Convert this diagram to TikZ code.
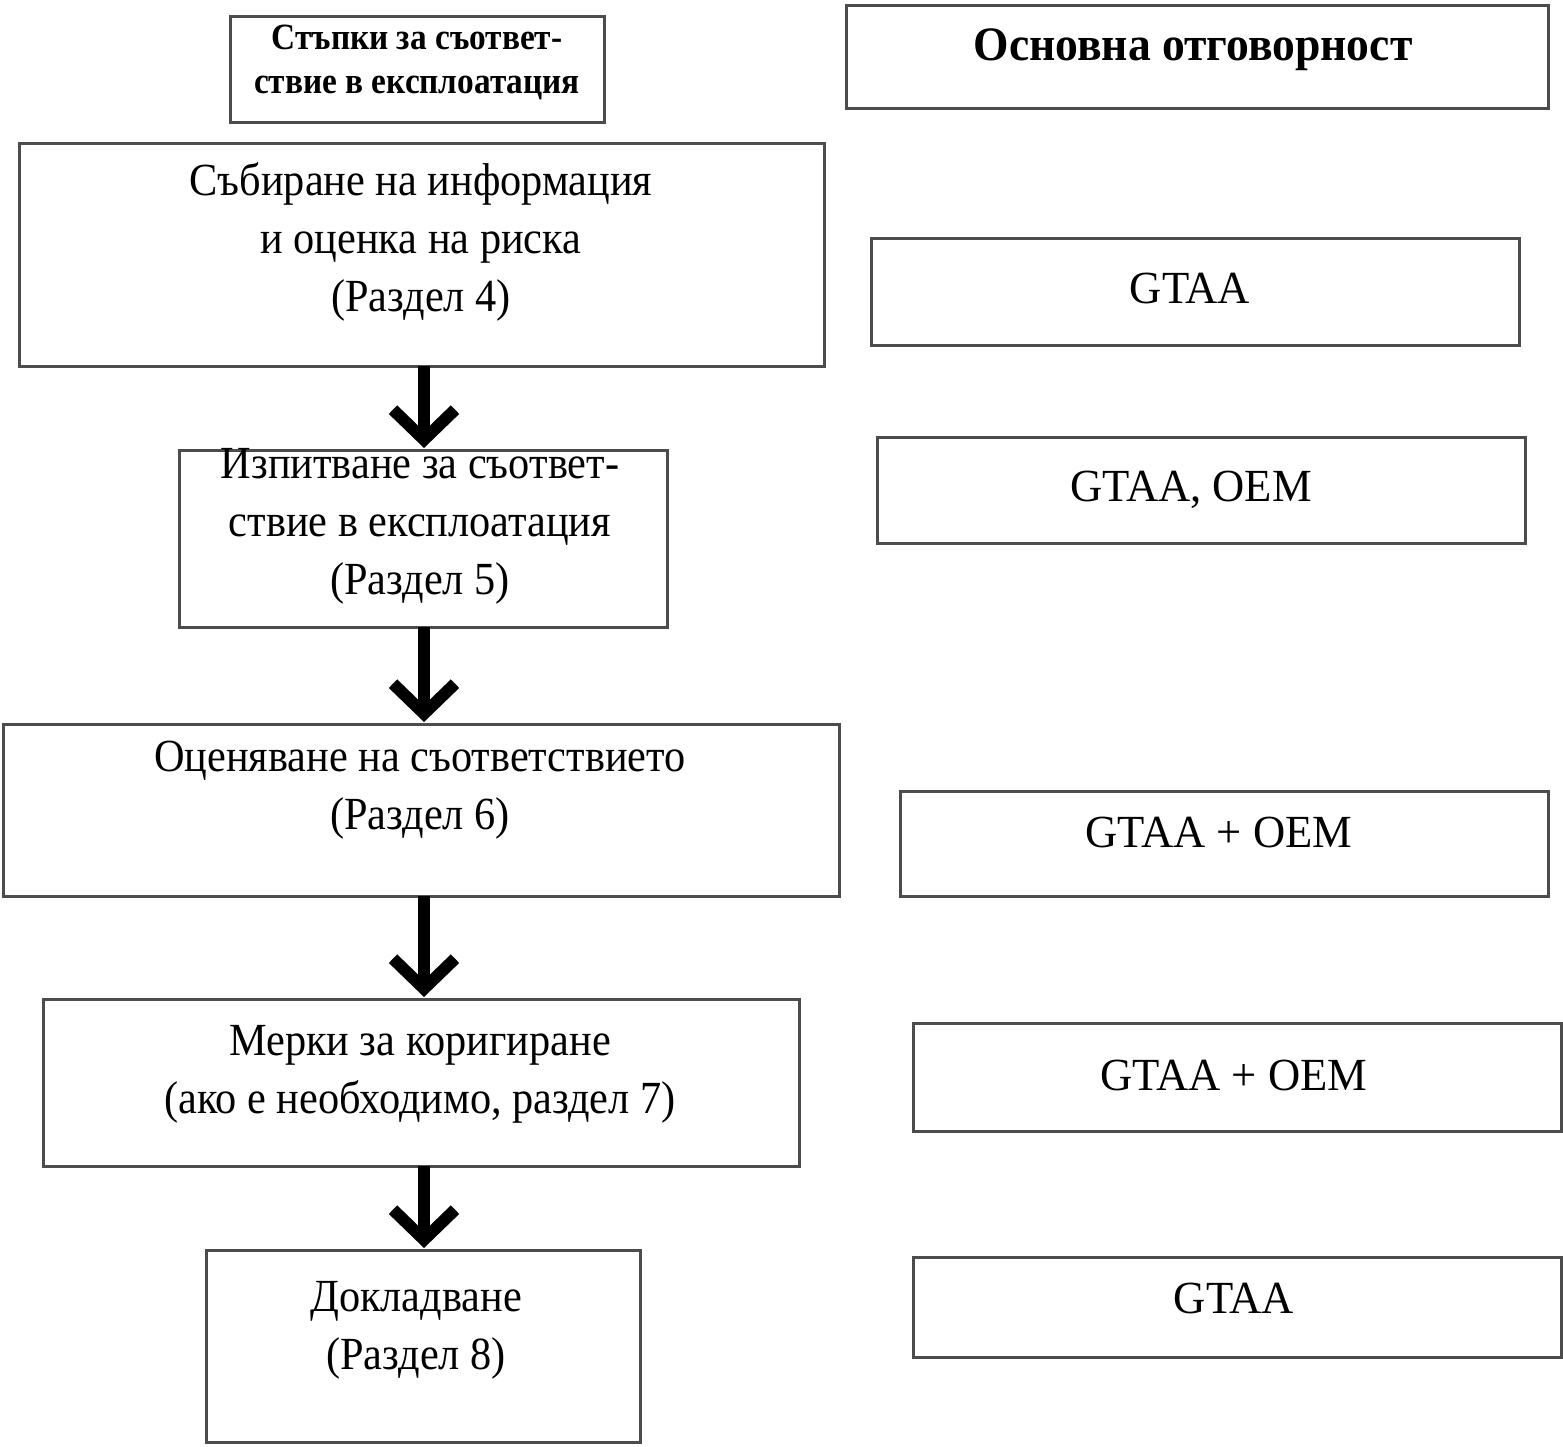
\documentclass[tikz,border=0pt]{standalone}
\usepackage{fontspec}
\setmainfont{Liberation Serif}
\newfontfamily\hdfont[FakeStretch=0.9]{Liberation Serif}
\newfontfamily\hdbigfont[FakeStretch=0.95]{Liberation Serif}
\newfontfamily\bodyfont[FakeStretch=0.92]{Liberation Serif}
\newfontfamily\rfont[FakeStretch=0.97]{Liberation Serif}
\usetikzlibrary{arrows.meta}
\begin{document}
\begin{tikzpicture}[x=1pt,y=-1pt,
  box/.style={draw=black!70,line width=3pt,fill=white,inner sep=0pt},
  txt/.style={align=center,inner sep=0pt,font=\bodyfont\fontsize{46}{58}\selectfont},
  rtxt/.style={align=center,inner sep=0pt,font=\rfont\fontsize{46}{58}\selectfont},
  hd/.style={align=center,inner sep=0pt,font=\hdfont\bfseries\fontsize{37}{44}\selectfont},
  flow/.style={line width=12pt,-{Straight Barb[length=30pt,width=62pt,line width=12pt]},shorten >=2pt}]
\useasboundingbox (0,0) rectangle (1563,1446);
% boxes
\newcommand{\pbox}[5]{\node[box,minimum width=#3-#1,minimum height=#4-#2] (#5) at ({(#1+#3)/2},{(#2+#4)/2}) {};}
\pbox{230}{16}{604}{122}{h1}
\pbox{846}{5}{1548}{108}{h2}
\pbox{19}{143}{824}{366}{b1}
\pbox{871}{238}{1519}{345}{r1}
\pbox{179}{450}{667}{627}{b2}
\pbox{877}{437}{1525}{543}{r2}
\pbox{3}{724}{839}{896}{b3}
\pbox{900}{791}{1548}{896}{r3}
\pbox{43}{999}{799}{1166}{b4}
\pbox{913}{1023}{1561}{1131}{r4}
\pbox{206}{1250}{640}{1442}{b5}
\pbox{913}{1257}{1561}{1357}{r5}
% texts
\node[hd] (t-h1) at (417,62) {Стъпки за съответ-\\ствие в експлоатация};
\node[hd,font=\hdbigfont\bfseries\fontsize{48}{50}\selectfont] (t-h2) at (1193,50) {Основна отговорност};
\node[txt] (t-b1) at (421,242) {Събиране на информация\\и оценка на риска\\(Раздел 4)};
\node[rtxt] (t-r1) at (1190,288) {GTAA};
\node[txt] (t-b2) at (420,526) {Изпитване за съответ-\\ствие в експлоатация\\(Раздел 5)};
\node[rtxt] (t-r2) at (1191,490) {GTAA, OEM};
\node[txt] (t-b3) at (420,790) {Оценяване на съответствието\\(Раздел 6)};
\node[rtxt] (t-r3) at (1219,832) {GTAA + OEM};
\node[txt] (t-b4) at (420,1074) {Мерки за коригиране\\(ако е необходимо, раздел 7)};
\node[rtxt] (t-r4) at (1234,1075) {GTAA + OEM};
\node[txt] (t-b5) at (416,1330) {Докладване\\(Раздел 8)};
\node[rtxt] (t-r5) at (1234,1298) {GTAA};
% arrows
\coordinate (a1s) at (424,366); \coordinate (a1e) at (424,450);
\coordinate (a2s) at (424,627); \coordinate (a2e) at (424,724);
\coordinate (a3s) at (424,896); \coordinate (a3e) at (424,999);
\coordinate (a4s) at (424,1166); \coordinate (a4e) at (424,1250);
\draw[flow] (a1s) -- (a1e);
\draw[flow] (a2s) -- (a2e);
\draw[flow] (a3s) -- (a3e);
\draw[flow] (a4s) -- (a4e);
\end{tikzpicture}
\end{document}
